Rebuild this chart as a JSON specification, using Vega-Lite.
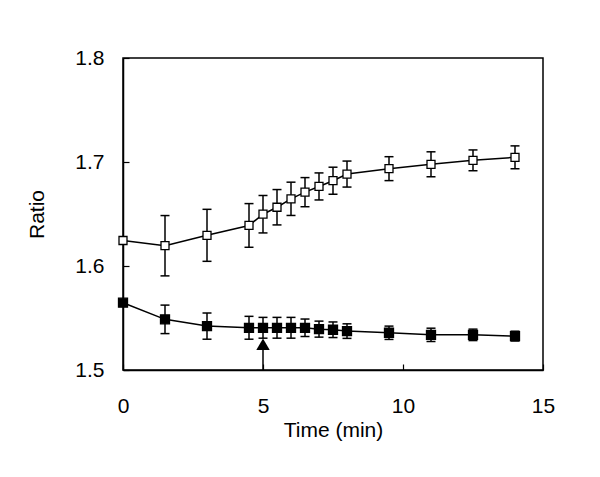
{
  "$schema": "https://vega.github.io/schema/vega-lite/v6.json",
  "width": 420,
  "height": 312,
  "autosize": {"type": "none"},
  "padding": {"left": 123, "top": 58, "right": 57, "bottom": 107},
  "background": "white",
  "config": {
    "view": {"stroke": "black", "strokeWidth": 1.5},
    "font": "Liberation Sans"
  },
  "datasets": {
    "main": [
      {"s": "open", "t": 0, "r": 1.6245, "e": 0},
      {"s": "open", "t": 1.5, "r": 1.6195, "e": 0.029},
      {"s": "open", "t": 3, "r": 1.6295, "e": 0.025},
      {"s": "open", "t": 4.5, "r": 1.639, "e": 0.021},
      {"s": "open", "t": 5, "r": 1.6498, "e": 0.018},
      {"s": "open", "t": 5.5, "r": 1.6565, "e": 0.017},
      {"s": "open", "t": 6, "r": 1.6646, "e": 0.016},
      {"s": "open", "t": 6.5, "r": 1.671, "e": 0.014},
      {"s": "open", "t": 7, "r": 1.6765, "e": 0.013},
      {"s": "open", "t": 7.5, "r": 1.682, "e": 0.013},
      {"s": "open", "t": 8, "r": 1.6884, "e": 0.0125},
      {"s": "open", "t": 9.5, "r": 1.6936, "e": 0.0115},
      {"s": "open", "t": 11, "r": 1.6978, "e": 0.012},
      {"s": "open", "t": 12.5, "r": 1.7016, "e": 0.010},
      {"s": "open", "t": 14, "r": 1.7045, "e": 0.011},
      {"s": "filled", "t": 0, "r": 1.5647, "e": 0},
      {"s": "filled", "t": 1.5, "r": 1.5487, "e": 0.0137},
      {"s": "filled", "t": 3, "r": 1.5422, "e": 0.0126},
      {"s": "filled", "t": 4.5, "r": 1.5406, "e": 0.011},
      {"s": "filled", "t": 5, "r": 1.5406, "e": 0.010},
      {"s": "filled", "t": 5.5, "r": 1.5406, "e": 0.010},
      {"s": "filled", "t": 6, "r": 1.5406, "e": 0.010},
      {"s": "filled", "t": 6.5, "r": 1.5406, "e": 0.0084},
      {"s": "filled", "t": 7, "r": 1.5393, "e": 0.0077},
      {"s": "filled", "t": 7.5, "r": 1.5387, "e": 0.0075},
      {"s": "filled", "t": 8, "r": 1.5374, "e": 0.007},
      {"s": "filled", "t": 9.5, "r": 1.5358, "e": 0.0064},
      {"s": "filled", "t": 11, "r": 1.5338, "e": 0.0064},
      {"s": "filled", "t": 12.5, "r": 1.5338, "e": 0.0055},
      {"s": "filled", "t": 14, "r": 1.5326, "e": 0.0047}
    ],
    "arrow": [
      {"t": 5, "y1": 1.5, "y2": 1.52, "tip": 1.5248}
    ]
  },
  "layer": [
    {
      "data": {"name": "main"},
      "mark": {"type": "line", "color": "black", "strokeWidth": 1.5},
      "encoding": {
        "x": {"field": "t", "type": "quantitative", "scale": {"domain": [0, 15], "nice": false},
              "title": "Time (min)",
              "axis": {"values": [0, 5, 10, 15], "grid": false, "labelFlush": false,
                       "domainColor": "black", "domainWidth": 1.5, "tickColor": "black", "tickWidth": 1.2, "tickSize": -6,
                       "labelFont": "Liberation Sans", "labelFontSize": 21, "labelColor": "black", "labelPadding": 31,
                       "titleFont": "Liberation Sans", "titleFontSize": 21, "titleFontWeight": "normal", "titleColor": "black", "titlePadding": 3}},
        "y": {"field": "r", "type": "quantitative", "scale": {"domain": [1.5, 1.8], "nice": false, "zero": false},
              "title": "Ratio",
              "axis": {"values": [1.5, 1.6, 1.7, 1.8], "format": ".1f", "grid": false, "labelFlush": false,
                       "domainColor": "black", "domainWidth": 1.5, "tickColor": "black", "tickWidth": 1.2, "tickSize": -6,
                       "labelFont": "Liberation Sans", "labelFontSize": 21, "labelColor": "black", "labelPadding": 25,
                       "titleFont": "Liberation Sans", "titleFontSize": 21, "titleFontWeight": "normal", "titleColor": "black", "titlePadding": 27}},
        "detail": {"field": "s"},
        "order": {"field": "t"}
      }
    },
    {
      "data": {"name": "main"},
      "transform": [{"filter": "datum.e > 0"}],
      "mark": {"type": "errorbar", "color": "black", "opacity": 1, "thickness": 1.5, "ticks": {"size": 9, "color": "black", "thickness": 1.5, "opacity": 1}, "rule": {"color": "black", "opacity": 1, "strokeWidth": 1.5}},
      "encoding": {
        "x": {"field": "t", "type": "quantitative", "title": "Time (min)"},
        "y": {"field": "r", "type": "quantitative", "title": "Ratio"},
        "yError": {"field": "e"}
      }
    },
    {
      "data": {"name": "main"},
      "mark": {"type": "point", "shape": "square", "opacity": 1, "stroke": "black", "strokeWidth": 1.3},
      "encoding": {
        "x": {"field": "t", "type": "quantitative", "title": "Time (min)"},
        "y": {"field": "r", "type": "quantitative", "title": "Ratio"},
        "fill": {"field": "s", "type": "nominal", "scale": {"domain": ["open", "filled"], "range": ["white", "black"]}, "legend": null},
        "size": {"field": "s", "type": "nominal", "scale": {"domain": ["open", "filled"], "range": [64, 81]}, "legend": null}
      }
    },
    {
      "data": {"name": "arrow"},
      "mark": {"type": "rule", "color": "black", "strokeWidth": 1.5},
      "encoding": {
        "x": {"field": "t", "type": "quantitative", "title": "Time (min)"},
        "y": {"field": "y1", "type": "quantitative", "title": "Ratio"},
        "y2": {"field": "y2"}
      }
    },
    {
      "data": {"name": "arrow"},
      "mark": {"type": "point", "shape": "triangle-up", "size": 180, "filled": true, "color": "black", "opacity": 1},
      "encoding": {
        "x": {"field": "t", "type": "quantitative", "title": "Time (min)"},
        "y": {"field": "tip", "type": "quantitative", "title": "Ratio"}
      }
    }
  ]
}
